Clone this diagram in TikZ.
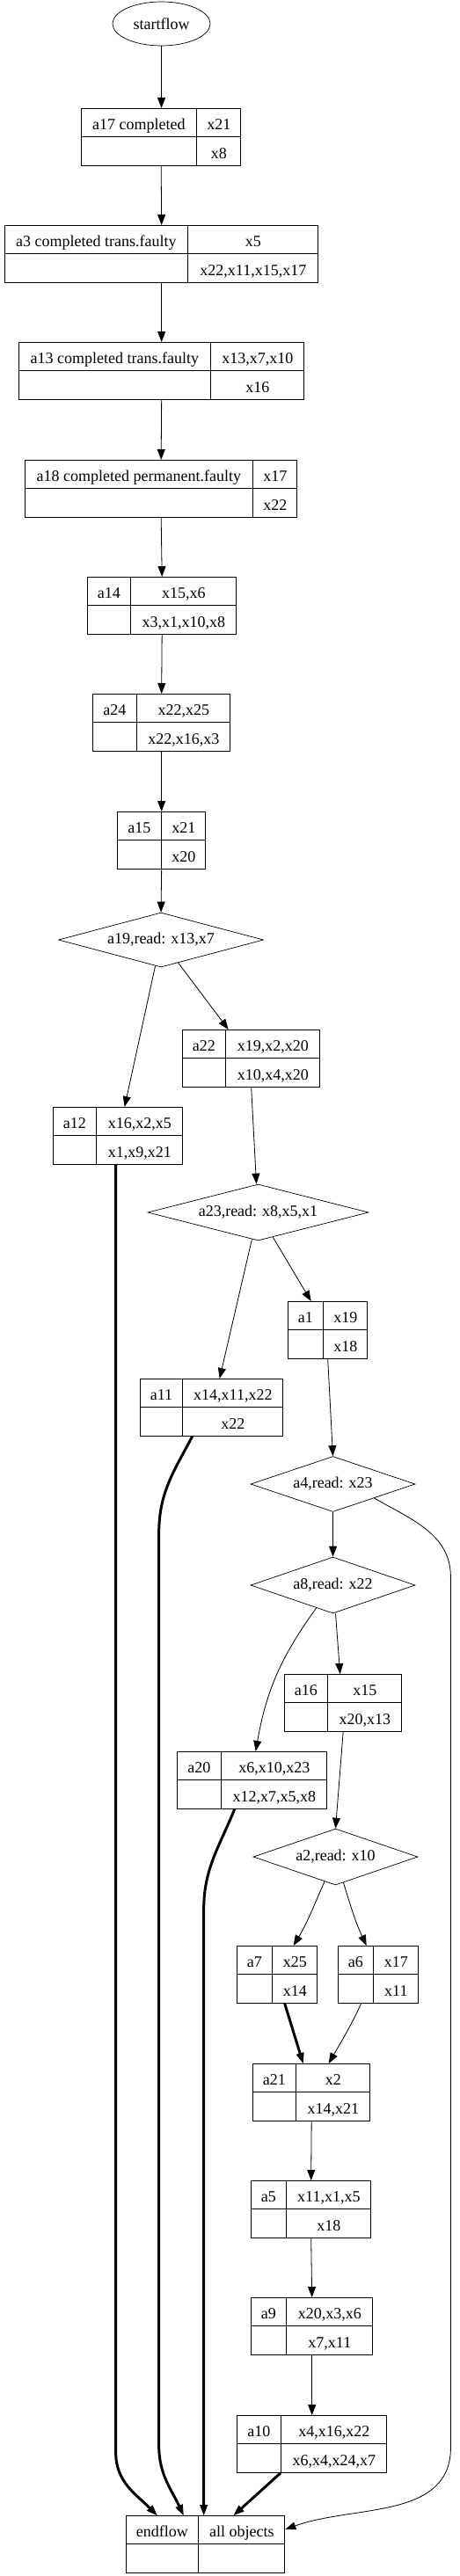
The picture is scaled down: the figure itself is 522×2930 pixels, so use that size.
\documentclass[tikz,border=0pt]{standalone}
\usepackage{fontspec}
\setmainfont{Liberation Serif}
\usetikzlibrary{arrows.meta, shapes.geometric}
\setlength{\arrayrulewidth}{0.9pt}
\newcommand{\recstrut}{\rule[-8pt]{0pt}{32pt}}
\newcommand{\recbox}[5]{\begin{tabular}{@{}c@{}|@{}c@{}}\makebox[#1pt]{#3}\recstrut & \makebox[#2pt]{#4}\\\hline\recstrut & \makebox[#2pt]{#5}\end{tabular}}
\tikzset{
  record/.style={draw, line width=0.9pt, inner sep=0pt, anchor=north west},
  cond/.style={draw, diamond, aspect=3.7, inner sep=0pt, line width=0.7pt},
  terminal/.style={draw, ellipse, inner sep=0pt, line width=0.7pt, minimum width=111pt, minimum height=50pt},
  arrow/.style={-{Triangle[length=12pt, width=9pt]}, line width=0.8pt},
  heavy/.style={-{Triangle[length=12pt, width=9pt, line width=0.8pt]}, line width=3pt},
  every node/.style={font=\fontsize{18}{21}\selectfont}
}

\begin{document}
\begin{tikzpicture}[x=1pt, y=-1pt]
    \useasboundingbox (0,0) rectangle (522,2930);

    \node[terminal] (startflow) at (183.5,27) {startflow};
    \node[record] (a17) at (92,123) {\recbox{131}{50}{a17 completed}{x21}{x8}};
    \node[record] (a3) at (5,256) {\recbox{208}{148}{a3 completed trans.faulty}{x5}{x22,x11,x15,x17}};
    \node[record] (a13) at (21,389) {\recbox{218}{106}{a13 completed trans.faulty}{x13,x7,x10}{x16}};
    \node[record] (a18) at (28,523) {\recbox{259}{50}{a18 completed permanent.faulty}{x17}{x22}};
    \node[record] (a14) at (99,656) {\recbox{49}{120}{a14}{x15,x6}{x3,x1,x10,x8}};
    \node[record] (a24) at (105,789) {\recbox{50}{106}{a24}{x22,x25}{x22,x16,x3}};
    \node[record] (a15) at (133,923) {\recbox{50}{50}{a15}{x21}{x20}};
    \node[cond, minimum width=233pt, minimum height=62pt] (a19) at (183,1069) {a19,read: x13,x7};
    \node[record] (a22) at (207,1171) {\recbox{49}{107}{a22}{x19,x2,x20}{x10,x4,x20}};
    \node[record] (a12) at (60,1259) {\recbox{49}{98}{a12}{x16,x2,x5}{x1,x9,x21}};
    \node[cond, minimum width=251pt, minimum height=64pt] (a23) at (293.5,1379) {a23,read: x8,x5,x1};
    \node[record] (a1) at (327,1480) {\recbox{40}{50}{a1}{x19}{x18}};
    \node[record] (a11) at (159,1568) {\recbox{48}{114}{a11}{x14,x11,x22}{x22}};
    \node[cond, minimum width=187pt, minimum height=63pt] (a4) at (378.5,1688) {a4,read: x23};
    \node[cond, minimum width=187pt, minimum height=64pt] (a8) at (378.5,1803) {a8,read: x22};
    \node[record] (a16) at (323,1904) {\recbox{49}{84}{a16}{x15}{x20,x13}};
    \node[record] (a20) at (201,1992) {\recbox{50}{120}{a20}{x6,x10,x23}{x12,x7,x5,x8}};
    \node[cond, minimum width=187pt, minimum height=64pt] (a2) at (381.5,2112) {a2,read: x10};
    \node[record] (a7) at (269,2213) {\recbox{40}{51}{a7}{x25}{x14}};
    \node[record] (a6) at (384,2213) {\recbox{40}{51}{a6}{x17}{x11}};
    \node[record] (a21) at (287,2347) {\recbox{49}{84}{a21}{x2}{x14,x21}};
    \node[record] (a5) at (285,2480) {\recbox{40}{96}{a5}{x11,x1,x5}{x18}};
    \node[record] (a9) at (285,2613) {\recbox{40}{98}{a9}{x20,x3,x6}{x7,x11}};
    \node[record] (a10) at (269,2747) {\recbox{50}{120}{a10}{x4,x16,x22}{x6,x4,x24,x7}};
    \node[record] (endflow) at (143,2861) {\recbox{82}{98}{endflow}{all objects}{}};

    % main chain
    \draw[arrow] (startflow) -- (startflow |- a17.north);
    \draw[arrow] (a17.south) -- (a3.north);
    \draw[arrow] (a3.south) -- (a13.north);
    \draw[arrow] (a13.south) -- (a18.north);
    \draw[arrow] (a18.south) -- (a14.north);
    \draw[arrow] (a14.south) -- (a24.north);
    \draw[arrow] (a24.south) -- (a15.north);
    \draw[arrow] (a15.south) -- (a19.north);

    % branches
    \draw[arrow] (a19) -- ([xshift=7.5pt]a12.north);
    \draw[arrow] (a19) -- ([xshift=-26pt]a22.north);
    \draw[arrow] (a22.south) -- ([xshift=-2pt]a23.north);
    \draw[arrow] (a23) -- ([xshift=9pt]a11.north);
    \draw[arrow] (a23) -- ([xshift=-19pt]a1.north);
    \draw[arrow] (a1.south) -- (a4.north);
    \draw[arrow] (a4.south) -- (a8.north);
    \draw[arrow] ([xshift=3pt]a8.south) -- ([xshift=-3.5pt]a16.north);
    \draw[arrow] (a8) to[out=-126,in=80] ([xshift=4pt]a20.north);
    \draw[arrow] (a16.south) -- (a2.north);
    \draw[arrow] (a2) to[out=-114,in=59] ([xshift=18.5pt]a7.north);
    \draw[arrow] (a2) to[out=-73,in=115] ([xshift=-13.5pt]a6.north);
    \draw[heavy] ([xshift=8.5pt]a7.south) -- ([xshift=-9.5pt]a21.north);
    \draw[arrow] ([xshift=-19.5pt]a6.south) to[out=-115,in=60] ([xshift=19.5pt]a21.north);
    \draw[arrow] (a21.south) -- (a5.north);
    \draw[arrow] (a5.south) -- (a9.north);
    \draw[arrow] (a9.south) -- (a10.north);

    % into endflow
    \draw[heavy] ([xshift=-2.5pt]a12.south) -- ++(0,1465) to[out=-90,in=135] ([xshift=-55pt]endflow.north);
    \draw[heavy] ([xshift=-22pt]a11.south) to[out=-118,in=90] ++(-38,110) -- ++(0,1038) to[out=-90,in=115] ([xshift=-25pt]endflow.north);
    \draw[heavy] ([xshift=-20pt]a20.south) to[out=-112,in=90] ++(-35,114) -- ([xshift=-2pt]endflow.north);
    \draw[heavy] ([xshift=50pt]a10.south west) -- ([xshift=32pt]endflow.north);
    \draw[arrow] (a4.south east) to[out=-30,in=90] ++(87,90) -- ++(0,990) to[out=-90,in=20] ([yshift=-16pt]endflow.north east);
\end{tikzpicture}
\end{document}
